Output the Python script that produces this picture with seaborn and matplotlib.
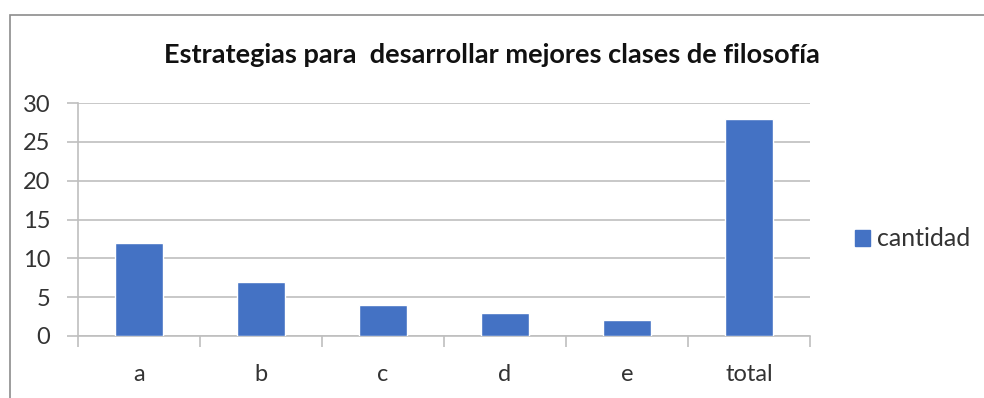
import matplotlib
matplotlib.use("Agg")
import matplotlib.pyplot as plt
import matplotlib.patches as mpatches
import seaborn as sns
import pandas as pd

categories = ["a", "b", "c", "d", "e", "total"]
cantidad = [12, 7, 4, 3, 2, 28]
y_ticks = [0, 5, 10, 15, 20, 25, 30]
title = "Estrategias para  desarrollar mejores clases de filosofía"
series_name = "cantidad"

bar_color = "#4472C4"
grid_color = "#BFBFBF"
text_color = "#333333"

sns.set_theme(style="white")
plt.rcParams["font.family"] = ["Lato", "DejaVu Sans"]

fig = plt.figure(figsize=(9.84, 3.98), dpi=100)
ax = fig.add_axes([78 / 984, 1 - 336 / 398, 732 / 984, 233 / 398])

df = pd.DataFrame({"categoria": categories, series_name: cantidad})
sns.barplot(data=df, x="categoria", y=series_name, color=bar_color,
            width=0.4, saturation=1, ax=ax, zorder=3)

ax.set_xlim(-0.5, len(categories) - 0.5)
ax.set_ylim(0, 30)
ax.set_yticks(y_ticks)
ax.yaxis.grid(True, color=grid_color, linewidth=1.2, zorder=0)
ax.set_axisbelow(True)
ax.set_xlabel("")
ax.set_ylabel("")

for side in ("top", "right"):
    ax.spines[side].set_visible(False)
ax.spines["left"].set_color(grid_color)
ax.spines["bottom"].set_color(grid_color)
ax.spines["left"].set_linewidth(1.2)
ax.spines["bottom"].set_linewidth(1.2)

# category boundaries carry the tick marks, labels sit at the centres
ax.set_xticks([i - 0.5 for i in range(len(categories) + 1)], minor=True)
ax.tick_params(axis="x", which="major", length=0, pad=20, labelsize=17,
               labelcolor=text_color)
ax.tick_params(axis="x", which="minor", length=8, width=1.2, color=grid_color,
               direction="out", bottom=True)
ax.tick_params(axis="y", which="major", length=8, width=1.2, color=grid_color,
               direction="out", left=True, pad=12, labelsize=17,
               labelcolor=text_color)

fig.text(0.5, 1 - 55 / 398, title, ha="center", va="center",
         fontsize=19.5, fontweight="bold", color="#111111")

handle = mpatches.Patch(color=bar_color, label=series_name)
fig.legend(handles=[handle], loc="center left",
           bbox_to_anchor=(855 / 984, 1 - 239 / 398), frameon=False,
           borderpad=0, borderaxespad=0,
           fontsize=18, handlelength=0.6, handleheight=0.6,
           handletextpad=0.3, labelcolor=text_color)

# chart area frame
frame = mpatches.Rectangle((10 / 984, -0.1), 1.1, 1 - 15 / 398 + 0.1,
                           transform=fig.transFigure, fill=False,
                           edgecolor="#8C8C8C", linewidth=1.2)
fig.add_artist(frame)

fig.savefig("out.png", dpi=100)
